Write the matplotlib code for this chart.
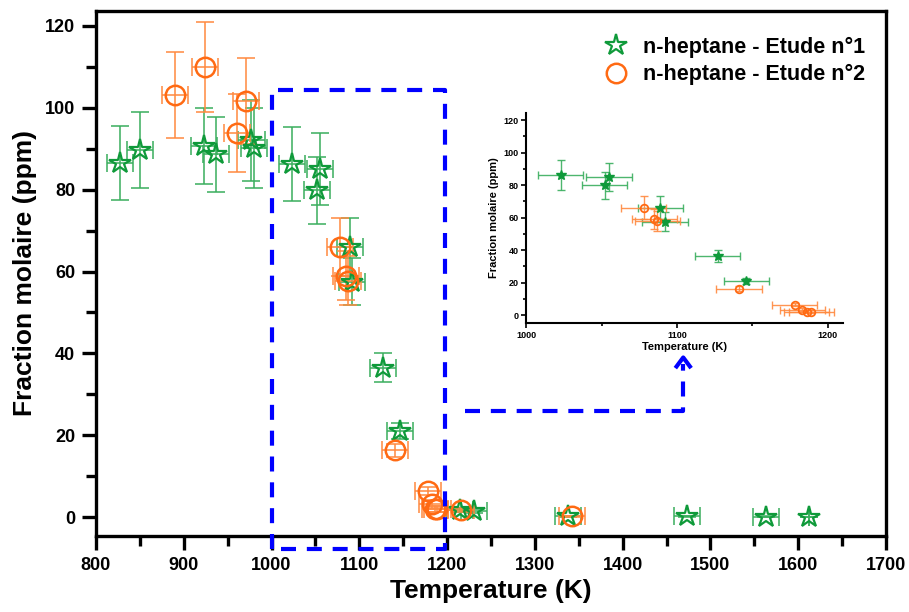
import numpy as np
import matplotlib
matplotlib.use("Agg")
import matplotlib.pyplot as plt
from matplotlib.ticker import MultipleLocator

plt.rcParams['font.family'] = ['Liberation Sans', 'DejaVu Sans']
plt.rcParams['font.weight'] = 'bold'

# ---- Data: study 1 (green stars) ----
T1 = [827, 850, 923, 937, 977, 980, 1023, 1052, 1055, 1089, 1092, 1127, 1146, 1215, 1231, 1338, 1473, 1563, 1612]
Y1 = [86.5, 89.6, 90.6, 88.6, 92.0, 90.2, 86.2, 79.8, 85.0, 66.0, 57.5, 36.5, 21.0, 1.7, 1.6, 0.2, 0.2, 0.1, 0.1]
Y1err = [9.0, 9.3, 9.3, 9.2, 9.8, 9.8, 9.0, 8.2, 8.8, 7.0, 5.8, 3.6, 2.0, 0.5, 0.5, 0.1, 0.1, 0.1, 0.0]
X1err = [15, 15, 15, 15, 15, 15, 15, 15, 15, 15, 15, 15, 15, 15, 15, 15, 15, 15, 0]

# ---- Data: study 2 (orange circles) ----
T2 = [890, 924, 961, 971, 1078, 1085, 1087, 1141, 1178, 1183, 1186, 1189, 1216, 1342]
Y2 = [103.1, 110.0, 93.8, 101.7, 66.0, 59.0, 57.8, 16.3, 6.3, 3.2, 2.0, 2.0, 1.8, 0.2]
Y2err = [10.5, 11.0, 9.5, 10.5, 7.0, 6.0, 6.0, 1.5, 1.0, 1.0, 0.8, 0.8, 0.5, 0.1]
X2err = [15, 15, 15, 15, 15, 15, 15, 15, 15, 15, 15, 15, 15, 15]

labels = ["n-heptane - Etude n°1", "n-heptane - Etude n°2"]

GREEN = '#0f9a3a'
GREEN_E = '#3aae5e'
ORANGE = '#ff6a13'
ORANGE_E = '#ff8a40'
BLUE = '#0000ff'

fig = plt.figure(figsize=(9.09, 6.12), dpi=100)
ax = fig.add_axes([0.1056, 0.1242, 0.8691, 0.8583])

ax.errorbar(T1, Y1, yerr=Y1err, xerr=X1err, fmt='none', ecolor=GREEN_E,
            elinewidth=1.3, capsize=6.5, capthick=1.3, alpha=0.85, zorder=2)
ax.plot(T1, Y1, linestyle='none', marker='*', markersize=16, mfc='none',
        mec=GREEN, mew=1.6, zorder=3)
ax.errorbar(T2, Y2, yerr=Y2err, xerr=X2err, fmt='none', ecolor=ORANGE_E,
            elinewidth=1.3, capsize=6.5, capthick=1.3, alpha=0.85, zorder=2)
ax.plot(T2, Y2, linestyle='none', marker='o', markersize=14, mfc='none',
        mec=ORANGE, mew=1.8, zorder=3)

ax.set_xlim(800, 1700)
ax.set_ylim(-4.6, 123.7)
ax.xaxis.set_major_locator(MultipleLocator(100))
ax.xaxis.set_minor_locator(MultipleLocator(50))
ax.yaxis.set_major_locator(MultipleLocator(20))
ax.yaxis.set_minor_locator(MultipleLocator(10))
ax.tick_params(which='major', direction='out', length=10, width=2.4, labelsize=13, pad=5)
ax.tick_params(which='minor', direction='out', length=7.5, width=2.4)
for lab in ax.get_xticklabels() + ax.get_yticklabels():
    lab.set_fontweight('bold')
for s in ax.spines.values():
    s.set_linewidth(2.4)
ax.set_xlabel('Temperature (K)', fontsize=19, fontweight='bold', labelpad=4)
ax.set_ylabel('Fraction molaire (ppm)', fontsize=19, fontweight='bold', labelpad=6)

# legend
h1, = ax.plot([], [], linestyle='none', marker='*', markersize=16, mfc='none', mec=GREEN, mew=1.6)
h2, = ax.plot([], [], linestyle='none', marker='o', markersize=14, mfc='none', mec=ORANGE, mew=1.8)
leg = ax.legend([h1, h2], labels, loc='upper right', bbox_to_anchor=(0.99, 0.975),
                frameon=False, prop={'weight': 'bold', 'size': 15.5}, handletextpad=0.45,
                handlelength=1.6, labelspacing=0.3, borderaxespad=0.2)

# blue dashed zoom box
box_x = [1000, 1000, 1198, 1198, 1000]
box_y = [-7.8, 104.4, 104.4, -7.8, -7.8]
ls = (0, (3.6, 2.6))
ax.plot(box_x, box_y, color=BLUE, lw=3, linestyle=ls, clip_on=False, zorder=5)
arr_x = [1220, 1469, 1469]
arr_y = [25.9, 25.9, 37.5]
ax.plot(arr_x, arr_y, color=BLUE, lw=3, linestyle=ls, clip_on=False, zorder=5)
tip_x, tip_y, dx, dy = 1469, 39.0, 9.0, 2.6
ax.plot([tip_x - dx, tip_x, tip_x + dx], [tip_y - dy, tip_y, tip_y - dy], color=BLUE,
        lw=3, solid_capstyle='butt', zorder=5)

# ---- inset ----
axi = fig.add_axes([0.5787, 0.4722, 0.3487, 0.3431])
T1a, Y1a, Y1ea, X1ea = map(np.asarray, (T1, Y1, Y1err, X1err))
T2a, Y2a, Y2ea, X2ea = map(np.asarray, (T2, Y2, Y2err, X2err))
m1 = T1a < 1200
m2 = T2a < 1200
axi.errorbar(T1a[m1], Y1a[m1], yerr=Y1ea[m1], xerr=X1ea[m1], fmt='none', ecolor=GREEN_E,
             elinewidth=1.0, capsize=3, capthick=1.0, alpha=0.9, zorder=2)
axi.plot(T1a[m1], Y1a[m1], linestyle='none', marker='*', markersize=7, color=GREEN, zorder=3)
axi.errorbar(T2a[m2], Y2a[m2], yerr=Y2ea[m2], xerr=X2ea[m2], fmt='none', ecolor=ORANGE_E,
             elinewidth=1.0, capsize=3, capthick=1.0, alpha=0.9, zorder=2)
axi.plot(T2a[m2], Y2a[m2], linestyle='none', marker='o', markersize=5.5, mfc='none',
         mec=ORANGE, mew=1.3, zorder=3)
axi.set_xlim(1000, 1210)
axi.set_ylim(-4.9, 124.3)
axi.xaxis.set_major_locator(MultipleLocator(100))
axi.xaxis.set_minor_locator(MultipleLocator(50))
axi.yaxis.set_major_locator(MultipleLocator(20))
axi.yaxis.set_minor_locator(MultipleLocator(10))
axi.spines['top'].set_visible(False)
axi.spines['right'].set_visible(False)
for s in ('left', 'bottom'):
    axi.spines[s].set_linewidth(1.5)
axi.tick_params(which='major', direction='out', length=3.5, width=1.2, labelsize=6.5, pad=2)
axi.tick_params(which='minor', direction='out', length=2.5, width=1.2)
for lab in axi.get_xticklabels() + axi.get_yticklabels():
    lab.set_fontweight('bold')
axi.set_xlabel('Temperature (K)', fontsize=8, fontweight='bold', labelpad=2)
axi.set_ylabel('Fraction molaire (ppm)', fontsize=8, fontweight='bold', labelpad=3)

fig.savefig('out.png', dpi=100)
